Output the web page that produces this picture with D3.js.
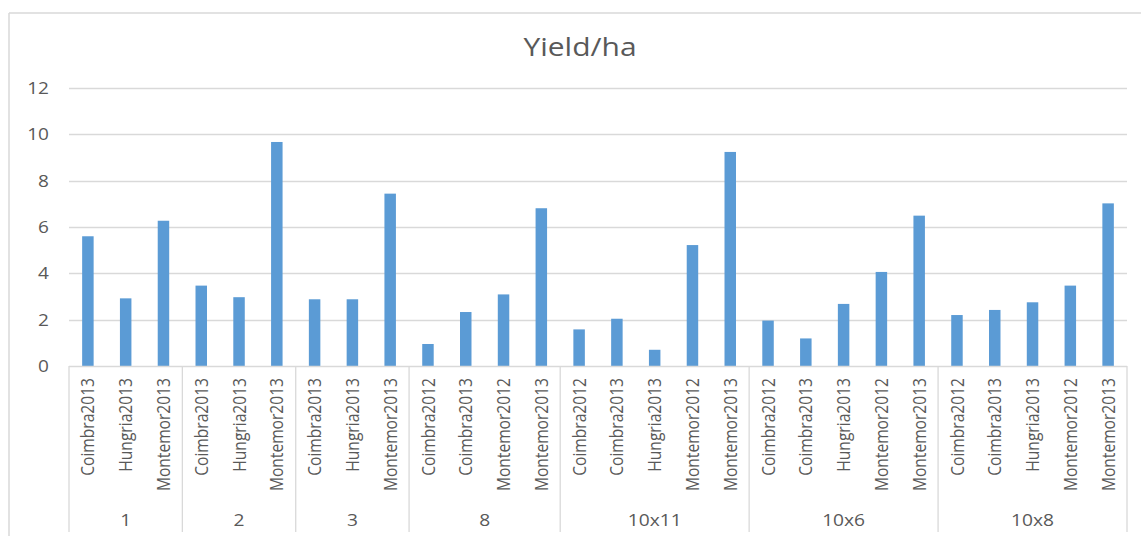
<!DOCTYPE html>
<html>
<head>
<meta charset="utf-8">
<script src="https://cdn.jsdelivr.net/npm/d3@7/dist/d3.min.js"></script>
<style>
  html, body { margin: 0; padding: 0; background: #fff; }
  svg { display: block; }
  text { font-family: "Open Sans", "Noto Sans", sans-serif; fill: #595959; }
</style>
</head>
<body>
<svg id="chart" width="1141" height="536"></svg>
<script>
// Trial groups and the number of site/year entries in each
const groups = ["1", "2", "3", "8", "10x11", "10x6", "10x8"];
const groupSizes = [3, 3, 3, 4, 5, 5, 5];

// Site/year labels, in drawing order
const categories = [
  "Coimbra2013", "Hungria2013", "Montemor2013",
  "Coimbra2013", "Hungria2013", "Montemor2013",
  "Coimbra2013", "Hungria2013", "Montemor2013",
  "Coimbra2012", "Coimbra2013", "Montemor2012", "Montemor2013",
  "Coimbra2012", "Coimbra2013", "Hungria2013", "Montemor2012", "Montemor2013",
  "Coimbra2012", "Coimbra2013", "Hungria2013", "Montemor2012", "Montemor2013",
  "Coimbra2012", "Coimbra2013", "Hungria2013", "Montemor2012", "Montemor2013"
];

// Yield per hectare for each entry
const yields = [
  5.6, 2.92, 6.27,
  3.47, 2.97, 9.67,
  2.88, 2.88, 7.44,
  0.95, 2.33, 3.09, 6.81,
  1.58, 2.04, 0.7, 5.22, 9.24,
  1.96, 1.19, 2.68, 4.06, 6.49,
  2.2, 2.42, 2.75, 3.47, 7.02
];

const yTicks = [0, 2, 4, 6, 8, 10, 12];

const svg = d3.select("#chart");
const plot = { left: 69, right: 1127, top: 88, bottom: 366 };
const gridColor = "#d9d9d9";
const wide = 1.2; // horizontal widening applied to the text

// Outer chart frame (left and top edges visible in view)
svg.append("line").attr("x1", 9).attr("x2", 9).attr("y1", 13).attr("y2", 536)
  .attr("stroke", gridColor).attr("stroke-width", 1.5);
svg.append("line").attr("x1", 9).attr("x2", 1141).attr("y1", 13).attr("y2", 13)
  .attr("stroke", gridColor).attr("stroke-width", 1.5);

const idx = d3.range(categories.length);
const x = d3.scaleBand()
  .domain(idx)
  .range([plot.left, plot.right])
  .paddingInner(0.696)
  .paddingOuter(0.348);

const y = d3.scaleLinear().domain([0, 12]).range([plot.bottom, plot.top]);

// Horizontal gridlines
svg.append("g")
  .selectAll("line")
  .data(yTicks.filter(t => t > 0))
  .join("line")
  .attr("x1", plot.left).attr("x2", plot.right)
  .attr("y1", d => Math.round(y(d)) + 0.5).attr("y2", d => Math.round(y(d)) + 0.5)
  .attr("stroke", gridColor).attr("stroke-width", 1.3);

// Y axis labels
const yAxis = d3.axisLeft(y).tickValues(yTicks).tickSize(0).tickPadding(0);
const yg = svg.append("g").attr("transform", `translate(${plot.left - 20},0)`).call(yAxis);
yg.select(".domain").remove();
yg.selectAll("text").style("font-size", "17px").attr("fill", "#595959")
  .style("font-family", "'Open Sans', sans-serif")
  .attr("transform", "scale(1.12,1)");

// Bars
svg.append("g")
  .selectAll("rect")
  .data(idx)
  .join("rect")
  .attr("x", i => x(i))
  .attr("width", x.bandwidth())
  .attr("y", i => y(yields[i]))
  .attr("height", i => y(0) - y(yields[i]))
  .attr("fill", "#5b9bd5");

// Category axis line
svg.append("line")
  .attr("x1", plot.left).attr("x2", plot.right)
  .attr("y1", plot.bottom + 0.5).attr("y2", plot.bottom + 0.5)
  .attr("stroke", gridColor).attr("stroke-width", 1.3);

// Entry labels, rotated
const step = x.step();
const catCenter = i => x(i) + x.bandwidth() / 2;
svg.append("g")
  .selectAll("text")
  .data(idx)
  .join("text")
  .attr("transform", i => `translate(${catCenter(i) + 6.6},${plot.bottom + 12}) rotate(-90) scale(1,${wide})`)
  .attr("text-anchor", "end")
  .style("font-size", "15.6px")
  .text(i => categories[i]);

// Group separators and group labels
const starts = [0];
groupSizes.forEach((n, k) => starts.push(starts[k] + n));
const edgeX = k => plot.left + starts[k] * step;
svg.append("g")
  .selectAll("line")
  .data(d3.range(groups.length + 1))
  .join("line")
  .attr("x1", k => edgeX(k)).attr("x2", k => edgeX(k))
  .attr("y1", plot.bottom).attr("y2", 532)
  .attr("stroke", gridColor).attr("stroke-width", 1.3);

svg.append("g")
  .selectAll("text")
  .data(groups)
  .join("text")
  .attr("transform", (g, k) => `translate(${(edgeX(k) + edgeX(k + 1)) / 2},526) scale(${wide},1)`)
  .attr("text-anchor", "middle")
  .style("font-size", "16px")
  .text(g => g);

// Title
svg.append("text")
  .attr("transform", `translate(580,56) scale(${wide},1)`)
  .attr("text-anchor", "middle")
  .style("font-size", "25px")
  .text("Yield/ha");
</script>
</body>
</html>
